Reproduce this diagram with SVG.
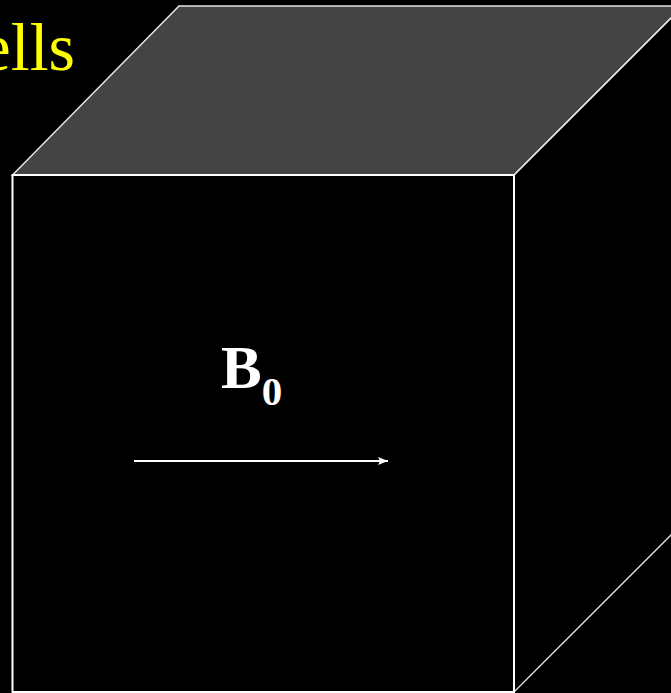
<svg xmlns="http://www.w3.org/2000/svg" width="671" height="693" viewBox="0 0 671 693">
<defs>
<style>
.edge{fill:none;stroke:#ffffff;stroke-width:2}
.thin{fill:none;stroke:#e0e0e0;stroke-width:1.3}
.title{font-family:"Liberation Serif",serif;font-size:68px;fill:#ffff00}
.lbl{font-family:"Liberation Serif",serif;font-weight:bold;fill:#ffffff}
</style>
<marker id="ah" viewBox="0 0 10 8" refX="10" refY="4" markerWidth="10" markerHeight="8" markerUnits="userSpaceOnUse" orient="auto">
<path d="M0,0 L10,4 L0,8 L2,4 Z" fill="#ffffff"/>
</marker>
</defs>
<rect width="671" height="693" fill="#000000"/>
<text class="title" x="75" y="70" text-anchor="end">ells</text>
<g id="cube">
<polygon points="12.5,175 179,6 683,6 514,175" fill="#444444" stroke="#e6e6e6" stroke-width="1.5"/>
<line class="thin" x1="514" y1="175" x2="683" y2="6"/>
<line class="thin" x1="514" y1="692" x2="683" y2="523"/>
<rect class="edge" x="12.5" y="175" width="501.5" height="517"/>
</g>
<g id="label">
<text class="lbl" x="221" y="388" font-size="61">B<tspan font-size="41" dy="17">0</tspan></text>
</g>
<g id="connectors">
<line x1="134" y1="461" x2="388" y2="461" stroke="#ffffff" stroke-width="2" marker-end="url(#ah)"/>
</g>
</svg>
